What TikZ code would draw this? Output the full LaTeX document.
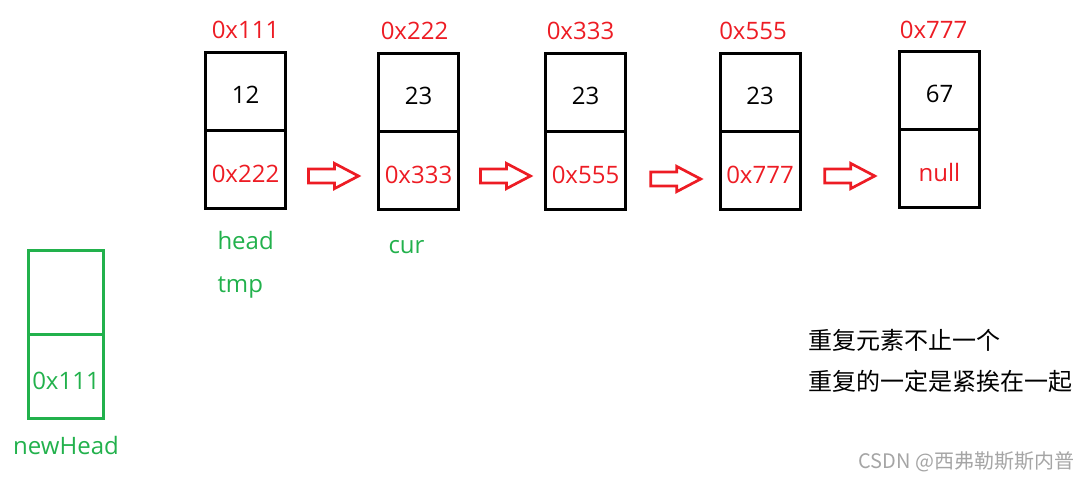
\documentclass[tikz,border=0pt]{standalone}
\usepackage{fontspec}
\setmainfont{Open Sans}
\newfontfamily\cjk{Noto Sans CJK SC}
\usetikzlibrary{positioning,calc}
\definecolor{addrred}{RGB}{237,28,36}
\definecolor{ptrgreen}{RGB}{34,177,76}
\definecolor{markgrey}{RGB}{165,165,165}

\begin{document}
\begin{tikzpicture}[
			x=0.5pt,y=-0.5pt,
			every node/.style={
				inner sep=0pt,
				outer sep=0pt,
				font=\fontsize{12}{14}\selectfont
			},
			cell/.style={draw,line width=1.5pt,minimum width=40pt,minimum height=39pt,text height=12.5pt},
			ptrcell/.style={cell,text=addrred,text height=13.5pt},
			newcell/.style={cell,draw=ptrgreen,text=ptrgreen,minimum width=37.5pt,minimum height=42pt},
			addr/.style={text=addrred},
			var/.style={text=ptrgreen},
			nextarrow/.style={draw=addrred,line width=1.35pt,line join=miter},
			note/.style={font=\cjk\fontsize{12}{14}\selectfont,anchor=west}
			]
			
			\useasboundingbox (0,0) rectangle (1089,478);
			
			% list nodes
			\node[cell] (v1) at (245.5,91) {12};
			\node[ptrcell,below=0pt of v1] (p1) {0x222};
			\node[cell] (v2) at (418.5,92) {23};
			\node[ptrcell,below=0pt of v2] (p2) {0x333};
			\node[cell] (v3) at (585.5,92) {23};
			\node[ptrcell,below=0pt of v3] (p3) {0x555};
			\node[cell] (v4) at (760,92) {23};
			\node[ptrcell,below=0pt of v4] (p4) {0x777};
			\node[cell] (v5) at (939.5,90) {67};
			\node[ptrcell,below=0pt of v5] (p5) {null};
			
			% addresses
			\node[addr,above=6.5pt of v1] (a1) {0x111};
			\node[addr,above=6.5pt of v2,xshift=-2pt] (a2) {0x222};
			\node[addr,above=6.5pt of v3,xshift=-2.5pt] (a3) {0x333};
			\node[addr,above=6.5pt of v4,xshift=-3.5pt] (a4) {0x555};
			\node[addr,above=6pt of v5,xshift=-3pt] (a5) {0x777};
			
			% next arrows
			\coordinate (r1) at ($(p1)!0.5!(p2)+(1.5,6.5)$);
			\coordinate (r2) at ($(p2)!0.5!(p3)+(3.5,6)$);
			\coordinate (r3) at ($(p3)!0.5!(p4)+(3,9)$);
			\coordinate (r4) at ($(p4)!0.5!(p5)+(0,7)$);
			\draw[nextarrow] ([xshift=-12.5pt,yshift=3.5pt]r1) -- ++(13pt,0pt) -- ++(0pt,2.8pt) -- ++(12pt,-6.3pt) -- ++(-12pt,-6.3pt) -- ++(0pt,2.8pt) -- ++(-13pt,0pt) -- cycle;
			\draw[nextarrow] ([xshift=-12.5pt,yshift=3.5pt]r2) -- ++(13pt,0pt) -- ++(0pt,2.8pt) -- ++(12pt,-6.3pt) -- ++(-12pt,-6.3pt) -- ++(0pt,2.8pt) -- ++(-13pt,0pt) -- cycle;
			\draw[nextarrow] ([xshift=-12.5pt,yshift=3.5pt]r3) -- ++(13pt,0pt) -- ++(0pt,2.8pt) -- ++(12pt,-6.3pt) -- ++(-12pt,-6.3pt) -- ++(0pt,2.8pt) -- ++(-13pt,0pt) -- cycle;
			\draw[nextarrow] ([xshift=-12.5pt,yshift=3.5pt]r4) -- ++(13pt,0pt) -- ++(0pt,2.8pt) -- ++(12pt,-6.3pt) -- ++(-12pt,-6.3pt) -- ++(0pt,2.8pt) -- ++(-13pt,0pt) -- cycle;
			
			% pointers
			\node[var,anchor=base west] (head) at ([xshift=6pt,yshift=-20.5pt]p1.south west) {head};
			\node[var,anchor=base west] (tmp) at ([yshift=-21.5pt]head.base west) {tmp};
			\node[var,anchor=base west] (cur) at ([xshift=5pt,yshift=-22pt]p2.south west) {cur};
			
			\node[newcell] (nv) at (66,292.75) {};
			\node[newcell,below=0pt of nv] (np) {0x111};
			\node[var,below=9pt of np] (nh) {newHead};
			
			\node[note] (n1) at (808,340) {重复元素不止一个};
			\node[note] (n2) at ([yshift=-20.5pt]n1.west) {重复的一定是紧挨在一起};
			\node[font=\cjk\fontsize{10}{12}\selectfont,text=markgrey,anchor=east] (mark) at (1074,462) {CSDN @西弗勒斯斯内普};
			
		\end{tikzpicture}
\end{document}
